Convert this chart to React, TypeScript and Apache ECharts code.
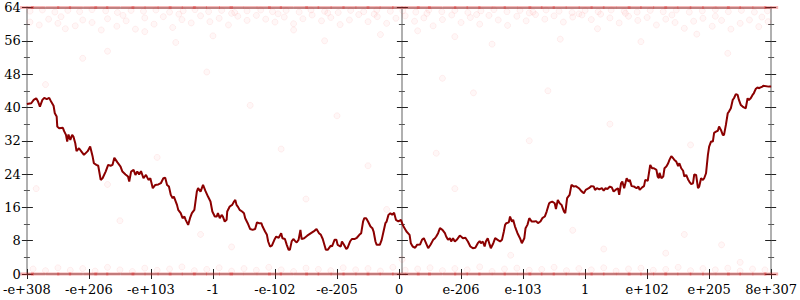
import React, { useEffect, useRef } from "react";
import * as echarts from "echarts";

const xTickLabels = ["-e+308", "-e+206", "-e+103", "-1", "-e-102", "-e-205", "0", "e-206", "e-103", "1", "e+102", "e+205", "8e+307"];

const trend: [number, number][] = [
  [0, 40.8], [0.07, 41.0], [0.11, 41.8], [0.15, 42.2], [0.18, 41.4], [0.21, 40.2], [0.25, 41.8], [0.28, 42.3], [0.32, 42.0], [0.36, 42.3],
  [0.39, 41.4], [0.43, 40.4], [0.45, 38.6], [0.48, 37.8], [0.49, 35.4], [0.52, 35.0], [0.58, 35.1], [0.6, 34.3], [0.63, 33.4], [0.65, 31.8],
  [0.67, 33.5], [0.7, 32.2], [0.73, 33.4], [0.75, 33.0], [0.78, 31.4], [0.8, 29.5], [0.84, 30.2], [0.88, 29.4], [0.92, 28.6], [0.98, 29.5],
  [1.02, 30.6], [1.06, 28.2], [1.08, 26.6], [1.12, 26.2], [1.15, 26.0], [1.19, 22.6], [1.22, 23.0], [1.27, 24.6], [1.31, 26.2], [1.35, 26.0],
  [1.38, 26.2], [1.41, 27.9], [1.46, 26.8], [1.51, 25.8], [1.54, 24.6], [1.59, 23.9], [1.63, 23.4], [1.65, 22.2], [1.68, 24.6], [1.72, 25.0],
  [1.75, 23.8], [1.78, 24.6], [1.81, 23.9], [1.84, 24.7], [1.88, 23.0], [1.92, 23.8], [1.96, 22.6], [1.99, 23.0], [2.03, 20.6], [2.07, 21.4],
  [2.12, 21.5], [2.16, 21.8], [2.2, 23.0], [2.23, 23.1], [2.26, 21.4], [2.29, 21.0], [2.32, 19.0], [2.35, 18.2], [2.37, 18.6], [2.4, 17.4],
  [2.42, 16.6], [2.44, 15.4], [2.48, 14.6], [2.51, 13.4], [2.54, 13.8], [2.56, 13.0], [2.6, 11.8], [2.63, 13.4], [2.66, 14.6], [2.7, 15.4],
  [2.74, 19.8], [2.76, 20.6], [2.8, 19.8], [2.84, 21.4], [2.88, 19.9], [2.92, 18.6], [2.96, 17.4], [2.99, 15.0], [3.03, 13.8], [3.06, 13.8],
  [3.08, 14.6], [3.11, 13.4], [3.14, 14.2], [3.16, 13.8], [3.19, 12.6], [3.22, 13.0], [3.23, 15.0], [3.27, 16.2], [3.31, 16.6], [3.34, 17.4],
  [3.36, 17.8], [3.38, 16.6], [3.4, 16.2], [3.43, 15.4], [3.47, 15.0], [3.5, 14.6], [3.52, 13.4], [3.56, 12.2], [3.6, 10.8], [3.64, 10.6],
  [3.68, 10.8], [3.71, 12.4], [3.74, 12.2], [3.78, 12.2], [3.8, 11.4], [3.84, 10.2], [3.87, 9.4], [3.89, 7.8], [3.92, 6.6], [3.95, 6.8],
  [3.99, 8.2], [4.02, 9.0], [4.06, 8.7], [4.1, 9.8], [4.12, 8.6], [4.16, 8.4], [4.19, 7.0], [4.22, 5.8], [4.24, 5.8], [4.27, 7.9],
  [4.3, 8.4], [4.33, 7.8], [4.35, 7.6], [4.38, 8.2], [4.41, 10.6], [4.43, 8.4], [4.47, 8.6], [4.52, 9.2], [4.58, 9.8], [4.63, 10.3],
  [4.67, 10.8], [4.71, 9.8], [4.74, 9.4], [4.77, 8.4], [4.82, 5.8], [4.85, 5.8], [4.9, 6.8], [4.92, 6.6], [4.96, 8.2], [4.99, 8.2],
  [5.01, 7.0], [5.06, 6.6], [5.08, 7.8], [5.11, 7.1], [5.15, 6.0], [5.17, 6.3], [5.21, 7.8], [5.24, 8.4], [5.28, 8.4], [5.32, 8.7],
  [5.36, 9.4], [5.39, 9.8], [5.42, 12.6], [5.44, 13.4], [5.47, 13.4], [5.5, 12.6], [5.54, 11.4], [5.57, 11.0], [5.59, 10.2], [5.62, 7.8],
  [5.64, 7.0], [5.69, 7.0], [5.72, 8.2], [5.75, 10.2], [5.78, 12.2], [5.8, 12.6], [5.83, 14.2], [5.86, 14.6], [5.89, 14.2], [5.92, 14.7],
  [5.95, 13.0], [5.99, 12.6], [6.03, 13.0], [6.06, 11.8], [6.08, 11.2], [6.12, 10.2], [6.17, 9.4], [6.19, 7.4], [6.22, 6.6], [6.26, 6.3],
  [6.29, 7.0], [6.34, 7.1], [6.37, 8.2], [6.4, 8.6], [6.43, 7.6], [6.47, 6.2], [6.51, 7.1], [6.55, 8.2], [6.58, 8.6], [6.6, 9.0],
  [6.63, 9.8], [6.66, 11.0], [6.7, 10.6], [6.74, 9.8], [6.76, 9.0], [6.79, 8.2], [6.82, 8.6], [6.84, 7.8], [6.87, 8.6], [6.9, 7.8],
  [6.93, 8.2], [6.98, 9.2], [7.0, 9.0], [7.03, 8.6], [7.07, 8.7], [7.11, 7.8], [7.15, 6.6], [7.19, 6.2], [7.23, 6.3], [7.27, 7.4],
  [7.3, 7.9], [7.32, 7.4], [7.35, 7.8], [7.38, 6.6], [7.4, 7.8], [7.43, 8.6], [7.46, 7.1], [7.48, 6.2], [7.52, 7.4], [7.55, 8.6],
  [7.59, 8.2], [7.63, 7.8], [7.66, 8.2], [7.69, 10.2], [7.71, 11.8], [7.73, 12.2], [7.77, 12.4], [7.79, 13.8], [7.82, 12.6], [7.84, 13.0],
  [7.87, 11.4], [7.91, 9.8], [7.95, 8.6], [7.98, 7.4], [8.02, 8.6], [8.04, 11.0], [8.07, 11.8], [8.1, 13.4], [8.14, 12.6], [8.18, 12.6],
  [8.21, 12.7], [8.24, 12.2], [8.28, 12.6], [8.31, 13.4], [8.35, 13.8], [8.38, 15.0], [8.42, 17.0], [8.44, 17.2], [8.47, 17.4], [8.51, 17.0],
  [8.53, 15.6], [8.56, 17.8], [8.59, 17.0], [8.62, 16.6], [8.66, 15.0], [8.68, 14.6], [8.71, 18.2], [8.75, 19.0], [8.78, 21.4], [8.82, 21.0],
  [8.85, 21.1], [8.9, 20.6], [8.94, 19.9], [8.98, 19.4], [9.01, 20.2], [9.06, 20.6], [9.1, 21.1], [9.14, 21.0], [9.16, 20.2], [9.19, 20.6],
  [9.23, 20.3], [9.27, 20.6], [9.3, 20.0], [9.33, 20.6], [9.36, 20.4], [9.4, 21.0], [9.43, 20.8], [9.46, 19.8], [9.49, 20.2], [9.53, 20.6],
  [9.55, 19.0], [9.58, 21.8], [9.6, 22.2], [9.63, 20.6], [9.65, 21.8], [9.67, 23.0], [9.7, 22.2], [9.72, 22.6], [9.75, 21.1], [9.79, 21.0],
  [9.83, 20.6], [9.86, 21.0], [9.88, 20.2], [9.92, 20.8], [9.95, 21.1], [9.97, 22.6], [10.01, 22.4], [10.03, 24.3], [10.05, 26.2], [10.08, 25.4],
  [10.11, 25.4], [10.15, 25.0], [10.17, 23.4], [10.19, 23.0], [10.2, 24.3], [10.23, 23.0], [10.26, 23.4], [10.28, 25.4], [10.31, 25.8], [10.34, 26.6],
  [10.36, 27.4], [10.39, 28.3], [10.42, 27.8], [10.44, 27.4], [10.47, 27.0], [10.5, 25.9], [10.52, 26.6], [10.55, 25.4], [10.58, 24.8], [10.6, 23.4],
  [10.63, 23.8], [10.66, 22.7], [10.68, 22.2], [10.71, 21.6], [10.74, 21.8], [10.76, 23.9], [10.79, 23.8], [10.82, 20.6], [10.84, 21.0], [10.87, 23.0],
  [10.9, 22.6], [10.92, 23.0], [10.95, 24.2], [10.98, 28.6], [11.0, 30.6], [11.03, 31.8], [11.06, 31.8], [11.08, 33.9], [11.11, 34.2], [11.14, 34.4],
  [11.16, 35.4], [11.19, 34.6], [11.22, 33.4], [11.24, 33.4], [11.27, 35.8], [11.3, 38.6], [11.32, 39.0], [11.35, 39.8], [11.38, 41.8], [11.4, 42.2],
  [11.43, 43.2], [11.46, 43.0], [11.48, 41.8], [11.51, 40.6], [11.54, 40.2], [11.56, 40.0], [11.59, 39.8], [11.62, 42.2], [11.64, 41.8], [11.67, 42.2],
  [11.7, 43.0], [11.72, 43.4], [11.75, 44.4], [11.78, 44.8], [11.8, 44.6], [11.83, 44.8], [11.86, 45.0], [11.87, 45.2], [11.96, 45.0], [12.0, 45.0],
];

const bandX = [0.0, 0.18, 0.41, 0.6, 0.79, 1.02, 1.2, 1.39, 1.62, 1.8, 2.01, 2.22, 2.4, 2.61, 2.79, 3.0, 3.21, 3.38, 3.6, 3.82,
  4.0, 4.19, 4.42, 4.6, 4.8, 5.01, 5.2, 5.41, 5.59, 5.8, 6.0, 6.22, 6.4, 6.58, 6.81, 7.0, 7.2, 7.39, 7.61, 7.8,
  8.02, 8.2, 8.4, 8.59, 8.8, 9.01, 9.2, 9.4, 9.62, 9.8, 10.0, 10.21, 10.39, 10.6, 10.8, 11.0, 11.22, 11.4, 11.6, 11.81, 12.0];

const lowFaint: [number, number][] = [
  [0.1, 1.2], [0.3, 0.8], [0.5, 1.5], [0.7, 0.9], [0.9, 1.3], [1.1, 0.7], [1.3, 1.6], [1.5, 1.0], [1.7, 0.6], [1.9, 1.4],
  [2.1, 0.9], [2.3, 1.2], [2.5, 1.7], [2.7, 0.8], [2.9, 1.1], [3.1, 1.5], [3.3, 0.7], [3.5, 1.3], [3.7, 0.9], [3.9, 1.6],
  [4.1, 1.0], [4.3, 0.6], [4.5, 1.4], [4.7, 1.1], [4.9, 0.8], [5.1, 1.5], [5.3, 1.0], [5.5, 1.3], [5.7, 0.7], [5.9, 1.6],
  [6.1, 0.9], [6.3, 1.2], [6.5, 1.5], [6.7, 0.8], [6.9, 1.3], [7.1, 1.0], [7.3, 1.7], [7.5, 0.6], [7.7, 1.2], [7.9, 1.4],
  [8.1, 0.9], [8.3, 1.1], [8.5, 1.6], [8.7, 0.8], [8.9, 1.3], [9.1, 1.0], [9.3, 1.5], [9.5, 0.7], [9.7, 1.2], [9.9, 1.4],
  [10.1, 0.9], [10.3, 1.1], [10.5, 1.6], [10.7, 0.8], [10.9, 1.3], [11.1, 1.0], [11.3, 1.4], [11.5, 0.7], [11.7, 1.2], [11.9, 1.0],
];

const topFaint: [number, number][] = [
  [0.05, 63.1], [0.25, 63.4], [0.45, 62.9], [0.66, 63.3], [0.85, 63.0], [1.05, 63.5], [1.27, 63.2], [1.46, 62.8], [1.68, 63.3], [1.88, 63.1],
  [2.08, 63.4], [2.3, 62.9], [2.52, 63.2], [2.71, 63.5], [2.93, 63.0], [3.14, 63.3], [3.35, 62.8], [3.55, 63.2], [3.77, 63.4], [3.96, 63.0],
  [4.18, 63.3], [4.39, 62.9], [4.58, 63.4], [4.8, 63.1], [5.02, 62.8], [5.22, 63.3], [5.43, 63.0], [5.64, 63.4], [5.86, 63.1], [6.06, 63.2],
  [6.27, 62.9], [6.48, 63.4], [6.69, 63.0], [6.9, 63.3], [7.11, 62.8], [7.32, 63.2], [7.53, 63.5], [7.74, 63.0], [7.95, 63.3], [8.16, 62.9],
  [8.37, 63.4], [8.58, 63.1], [8.79, 62.8], [9.0, 63.3], [9.21, 63.0], [9.42, 63.4], [9.63, 63.1], [9.84, 62.9], [10.05, 63.3], [10.26, 63.0],
  [10.47, 63.4], [10.68, 62.9], [10.89, 63.2], [11.1, 63.5], [11.31, 63.0], [11.52, 63.3], [11.73, 62.9], [11.94, 63.2],
];

const upperCloud: [number, number][] = [
  [0.05, 60.5], [0.2, 59.8], [0.35, 61.2], [0.5, 60.2], [0.62, 58.9], [0.78, 59.6], [0.9, 61.0], [1.05, 60.4], [1.2, 58.6], [1.3, 61.3],
  [1.45, 59.5], [1.6, 60.8], [1.75, 58.8], [1.9, 61.5], [2.05, 60.0], [2.2, 61.8], [2.35, 59.2], [2.5, 61.1], [2.65, 60.3], [2.8, 62.0],
  [2.95, 60.6], [3.1, 61.4], [3.25, 59.8], [3.4, 61.9], [3.55, 60.9], [3.7, 62.1], [3.85, 61.2], [4.0, 60.5], [4.15, 61.7], [4.3, 60.1],
  [4.45, 61.3], [4.6, 62.2], [4.75, 60.8], [4.9, 61.6], [5.05, 59.9], [5.2, 61.0], [5.35, 62.3], [5.5, 60.6], [5.65, 61.8], [5.8, 60.2],
  [5.95, 61.4], [6.1, 62.0], [6.25, 60.7], [6.4, 61.5], [6.55, 59.6], [6.7, 61.1], [6.85, 62.2], [7.0, 60.4], [7.15, 61.6], [7.3, 60.0],
  [7.45, 62.1], [7.6, 61.0], [7.75, 59.7], [7.9, 61.9], [8.05, 60.8], [8.2, 62.3], [8.35, 61.2], [8.5, 62.0], [8.65, 60.5], [8.8, 61.7],
  [8.95, 62.2], [9.1, 61.1], [9.25, 62.4], [9.4, 61.5], [9.55, 60.3], [9.7, 61.9], [9.85, 60.9], [10.0, 61.6], [10.15, 59.8], [10.3, 61.2],
  [10.45, 60.4], [10.6, 59.0], [10.75, 60.7], [10.9, 61.4], [11.05, 59.5], [11.2, 60.9], [11.35, 58.8], [11.5, 60.2], [11.65, 61.0], [11.8, 59.4],
  [11.95, 60.6], [1.3, 53.5], [0.9, 51.8], [3.0, 57.2], [4.8, 56.0], [5.7, 57.5], [6.9, 57.0], [8.6, 56.4], [9.9, 55.8], [11.3, 53.0],
  [7.5, 55.2], [2.4, 55.6], [1.9, 58.2], [4.3, 58.6], [6.3, 58.4], [9.2, 58.9], [10.8, 57.6],
  [0.55, 61.8], [1.55, 62.1], [2.45, 62.4], [3.3, 62.6], [4.05, 62.5], [4.85, 62.7], [5.6, 62.4], [6.45, 62.6], [7.25, 62.3], [8.1, 62.7],
  [8.9, 62.5], [9.65, 62.6], [10.4, 62.2], [11.1, 61.9], [11.85, 61.7],
];

const midSparse: [number, number][] = [
  [0.3, 45.5], [2.9, 48.5], [6.7, 47.0], [7.2, 43.5], [9.4, 36.0], [2.1, 28.0], [1.3, 21.5], [4.1, 30.0], [5.5, 26.0], [6.6, 29.0],
  [8.1, 32.0], [10.7, 31.0], [1.5, 12.8], [2.8, 9.5], [4.5, 18.0], [5.8, 15.5], [6.9, 20.5], [7.8, 4.5], [9.3, 6.0], [10.3, 5.0],
  [10.6, 9.5], [11.2, 7.0], [3.3, 6.5], [8.8, 10.5], [11.5, 2.8], [0.15, 20.5], [6.05, 3.5], [3.6, 40.5], [5.0, 38.0], [8.4, 44.0],
];

const FONT = "DejaVu Serif";
const GREY = "#b0b0b0";
const TICK = "#222";

function yAx(extra: any) {
  return {
    type: "value",
    min: 0,
    max: 64,
    interval: 8,
    splitLine: { show: false },
    axisLabel: { show: false },
    axisLine: { show: false, onZero: false },
    axisTick: { show: true, length: 5, lineStyle: { color: TICK, width: 1 } },
    minorTick: { show: true, splitNumber: 2, length: 3, lineStyle: { color: "#555", width: 1 } },
    ...extra,
  };
}

export default function App() {
  const ref = useRef<HTMLDivElement>(null);
  useEffect(() => {
    const chart = echarts.init(ref.current!, null, { renderer: "svg" });
    const faintStyle = { color: "rgba(255,60,60,0.05)", borderColor: "rgba(235,30,30,0.08)", borderWidth: 1 };
    const option: any = {
      animation: false,
      backgroundColor: "#fff",
      textStyle: { fontFamily: FONT },
      grid: { left: 24, right: 26, top: 7.5, bottom: 26 },
      xAxis: [
        {
          type: "value", min: 0, max: 12, interval: 1, position: "bottom",
          axisLine: { show: true, onZero: false, lineStyle: { color: GREY, width: 2 } },
          axisTick: { show: true, length: 5, lineStyle: { color: TICK } },
          axisLabel: { formatter: (v: number) => xTickLabels[Math.round(v)] ?? "", margin: 9, fontFamily: FONT, fontSize: 13, color: "#000" },
          splitLine: { show: false },
        },
        {
          type: "value", min: 0, max: 12, interval: 1, position: "bottom",
          axisLine: { show: false, onZero: false },
          axisTick: { show: true, inside: true, length: 5, lineStyle: { color: TICK } },
          axisLabel: { show: false },
          splitLine: { show: false },
        },
        {
          type: "value", min: 0, max: 12, interval: 1, position: "top",
          axisLine: { show: true, onZero: false, lineStyle: { color: GREY, width: 2 } },
          axisTick: { show: false },
          axisLabel: { show: false },
          splitLine: { show: false },
        },
      ],
      yAxis: [
        yAx({
          position: "left",
          axisLine: { show: true, onZero: false, lineStyle: { color: GREY, width: 2 } },
          axisLabel: { show: true, margin: 6, fontFamily: FONT, fontSize: 13, color: "#000" },
        }),
        yAx({ position: "left", axisTick: { show: true, inside: true, length: 6, lineStyle: { color: TICK } }, minorTick: { show: true, splitNumber: 2, length: 3, lineStyle: { color: "#555" } } }),
        yAx({ position: "left", offset: -375, axisLine: { show: true, onZero: false, lineStyle: { color: GREY, width: 2 } } }),
        yAx({ position: "left", offset: -375, axisTick: { show: true, inside: true, length: 6, lineStyle: { color: TICK } }, minorTick: { show: true, splitNumber: 2, length: 3, lineStyle: { color: "#555" } } }),
        yAx({ position: "right", axisLine: { show: true, onZero: false, lineStyle: { color: GREY, width: 2 } } }),
        yAx({ position: "right", axisTick: { show: true, inside: true, length: 6, lineStyle: { color: TICK } }, minorTick: { show: true, splitNumber: 2, length: 3, lineStyle: { color: "#555" } } }),
      ],
      series: [
        {
          type: "scatter", xAxisIndex: 0, yAxisIndex: 0, clip: false,
          symbol: "rect", symbolSize: [14, 3],
          itemStyle: { color: "rgba(228,30,30,0.45)" },
          data: bandX.map((x) => [x, 0]),
        },
        {
          type: "scatter", xAxisIndex: 0, yAxisIndex: 0, clip: false,
          symbol: "rect", symbolSize: [14, 3],
          itemStyle: { color: "rgba(228,30,30,0.4)" },
          data: bandX.map((x) => [x, 64]),
        },
        { type: "scatter", xAxisIndex: 0, yAxisIndex: 0, symbolSize: 6, itemStyle: faintStyle, data: lowFaint },
        { type: "scatter", xAxisIndex: 0, yAxisIndex: 0, symbolSize: 6, itemStyle: faintStyle, data: topFaint },
        { type: "scatter", xAxisIndex: 0, yAxisIndex: 0, symbolSize: 6, itemStyle: faintStyle, data: upperCloud },
        { type: "scatter", xAxisIndex: 0, yAxisIndex: 0, symbolSize: 6, itemStyle: faintStyle, data: midSparse },
        {
          type: "line", xAxisIndex: 0, yAxisIndex: 0, showSymbol: false, symbol: "none",
          lineStyle: { color: "#8b0000", width: 2 },
          data: trend, z: 5,
        },
      ],
    };
    chart.setOption(option);
    return () => chart.dispose();
  }, []);
  return <div ref={ref} style={{ position: "absolute", left: 0, top: 0, width: 800, height: 300, background: "#fff" }} />;
}
